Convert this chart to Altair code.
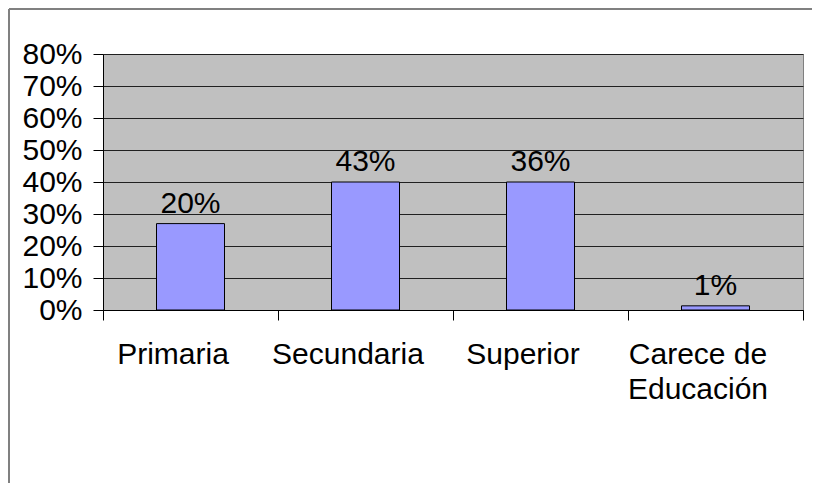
import altair as alt
import pandas as pd

categories = ["Primaria", "Secundaria", "Superior", "Carece de Educación"]
bar_values = [0.27, 0.40, 0.40, 0.013]
bar_labels = ["20%", "43%", "36%", "1%"]
y_ticks = [0, 0.1, 0.2, 0.3, 0.4, 0.5, 0.6, 0.7, 0.8]

df = pd.DataFrame({"cat": categories, "val": bar_values, "lab": bar_labels})

FONT = "Liberation Sans"

x_enc = alt.X(
    "cat:N",
    sort=categories,
    title=None,
    scale=alt.Scale(paddingInner=0, paddingOuter=0),
    axis=alt.Axis(
        labelAngle=0,
        tickBand="extent",
        tickSize=10,
        labelPadding=19,
        labelOffset=-18,
        labelFontSize=30,
        labelFont=FONT,
        labelColor="black",
        labelLineHeight=35,
        labelBaseline="top",
        labelExpr="datum.label == 'Carece de Educación' ? ['Carece de', 'Educación'] : datum.label",
        domainColor="black",
        tickColor="black",
        grid=False,
        labelLimit=300,
        labelOverlap=False,
    ),
)

y_enc = alt.Y(
    "val:Q",
    title=None,
    scale=alt.Scale(domain=[0, 0.8], nice=False),
    axis=alt.Axis(
        values=y_ticks,
        format=".0%",
        tickSize=10,
        labelPadding=11,
        labelFontSize=30,
        labelFont=FONT,
        labelColor="black",
        labelOverlap=False,
        labelBound=False,
        domainColor="black",
        tickColor="black",
        gridColor="#202020",
        gridWidth=1,
    ),
)

base = alt.Chart(df)

bars = base.mark_bar(
    size=68, fill="#9999FF", stroke="black", strokeWidth=1
).encode(x=x_enc, y=y_enc)

labels = base.mark_text(
    font=FONT, fontSize=30, color="black", baseline="alphabetic", dy=-11
).encode(x=x_enc, y=y_enc, text="lab:N")

one = pd.DataFrame({"f": [0]})
frame_left = alt.Chart(one).mark_rule(stroke="#808080", strokeWidth=2).encode(
    x=alt.value(-94), y=alt.value(-45), y2=alt.value(429)
)
frame_top = alt.Chart(one).mark_rule(stroke="#808080", strokeWidth=2).encode(
    x=alt.value(-94), x2=alt.value(709), y=alt.value(-45)
)

chart = alt.layer(bars, labels, frame_left, frame_top).properties(
    width=700,
    height=256,
    autosize=alt.AutoSizeParams(type="none"),
    padding={"left": 95, "top": 46, "right": 9, "bottom": 173},
    background="white",
).configure_view(
    fill="#C0C0C0", stroke="#808080", strokeWidth=1
)

chart.save("out.html", embed_options={"renderer": "svg", "actions": False})
